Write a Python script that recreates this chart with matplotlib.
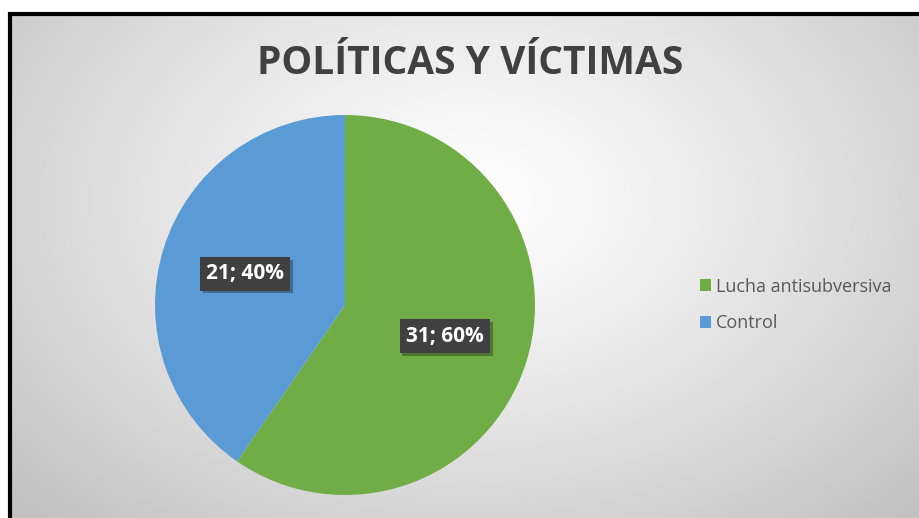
import numpy as np
import matplotlib.pyplot as plt
import matplotlib.patheffects as pe
from matplotlib.patches import Rectangle

categories = ["Lucha antisubversiva", "Control"]
values = [31, 21]
colors = ["#70AD47", "#5B9BD5"]
title = "POLÍTICAS Y VÍCTIMAS"

plt.rcParams['font.family'] = ['Open Sans', 'DejaVu Sans']

W, H = 919, 518
fig = plt.figure(figsize=(W / 100, H / 100), dpi=100)
fig.patch.set_facecolor("white")

# radial gradient background
bg = fig.add_axes([0, 0, 1, 1])
yy, xx = np.mgrid[0:H, 0:W]
d = np.sqrt(((xx - 470) / 600.0) ** 2 + ((yy - 200) / 420.0) ** 2)
shade = np.clip(1.0 - 0.23 * d ** 1.2, 0.76, 1.0)
img = np.dstack([shade, shade, shade])
bg.imshow(img, extent=[0, W, H, 0], aspect="auto", interpolation="bilinear")
bg.set_xlim(0, W)
bg.set_ylim(H, 0)
bg.axis("off")
# white strip above and left of the black frame
bg.add_patch(Rectangle((0, 0), W, 12, color="white", zorder=2))
bg.add_patch(Rectangle((0, 0), 8, H, color="white", zorder=2))
bg.plot([9, W], [13.5, 13.5], color="black", lw=3, zorder=3, solid_capstyle="butt")
bg.plot([9.5, 9.5], [12, H], color="black", lw=3, zorder=3, solid_capstyle="butt")

fig.text(470 / W, 1 - 63 / H, title, ha="center", va="center", fontsize=28,
         fontweight="bold", color="#404040")

cx, cy, r = 345, 305, 190
ax = fig.add_axes([(cx - r) / W, (H - cy - r) / H, 2 * r / W, 2 * r / H])
total = sum(values)
wedges, texts = ax.pie(values, colors=colors, startangle=90, counterclock=False,
                       labels=[f"{v}; {round(100 * v / total)}%" for v in values],
                       labeldistance=0.55, radius=1.0)
for t in texts:
    t.set_ha("center")
    t.set_va("center")
    t.set_color("white")
    t.set_fontweight("bold")
    t.set_fontsize(15)
    t.set_bbox(dict(boxstyle="square,pad=0.3", facecolor="#404040", edgecolor="none"))
    t.get_bbox_patch().set_path_effects(
        [pe.SimplePatchShadow(offset=(2, -2), alpha=0.35), pe.Normal()])
ax.set_xlim(-1, 1)
ax.set_ylim(-1, 1)
ax.set_aspect("equal")

leg = fig.legend(wedges, categories, loc="center left",
                 bbox_to_anchor=(684 / W, 1 - 305 / H), frameon=False,
                 fontsize=13, handlelength=0.6, handleheight=0.6,
                 handletextpad=0.25, labelspacing=1.05)
for t in leg.get_texts():
    t.set_color("#595959")

fig.savefig("out.png", dpi=100)
